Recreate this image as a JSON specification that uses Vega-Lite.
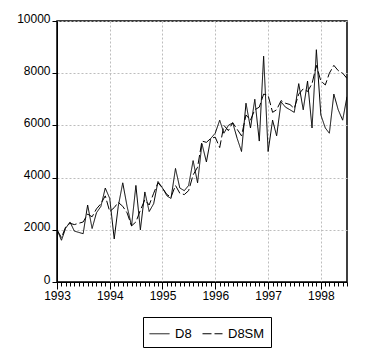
{
  "$schema": "https://vega.github.io/schema/vega-lite/v6.json",
  "autosize": "none",
  "width": 290,
  "height": 261,
  "padding": {"left": 57, "top": 21, "right": 19, "bottom": 72},
  "background": "white",
  "config": {
    "view": {"stroke": "black", "strokeWidth": 1.5},
    "font": "Liberation Sans",
    "axis": {"labelFont": "Liberation Sans", "labelColor": "black", "domainColor": "black", "tickColor": "black", "gridColor": "#bdbdbd", "gridDash": [2, 2], "labelFontSize": 12}
  },
  "data": {
    "values": [
      {"date": "1993-01", "D8": 2000, "D8SM": 2000},
      {"date": "1993-02", "D8": 1600, "D8SM": 1700},
      {"date": "1993-03", "D8": 2050, "D8SM": 2100},
      {"date": "1993-04", "D8": 2300, "D8SM": 2250},
      {"date": "1993-05", "D8": 1950, "D8SM": 2200},
      {"date": "1993-06", "D8": 1900, "D8SM": 2250},
      {"date": "1993-07", "D8": 1850, "D8SM": 2300},
      {"date": "1993-08", "D8": 2950, "D8SM": 2600},
      {"date": "1993-09", "D8": 2050, "D8SM": 2500},
      {"date": "1993-10", "D8": 2650, "D8SM": 2800},
      {"date": "1993-11", "D8": 2900, "D8SM": 3000},
      {"date": "1993-12", "D8": 3600, "D8SM": 3300},
      {"date": "1994-01", "D8": 3200, "D8SM": 2700},
      {"date": "1994-02", "D8": 1650, "D8SM": 2850},
      {"date": "1994-03", "D8": 2900, "D8SM": 3050},
      {"date": "1994-04", "D8": 3800, "D8SM": 2900},
      {"date": "1994-05", "D8": 2900, "D8SM": 2650},
      {"date": "1994-06", "D8": 2150, "D8SM": 2150},
      {"date": "1994-07", "D8": 3700, "D8SM": 2300},
      {"date": "1994-08", "D8": 2000, "D8SM": 2750},
      {"date": "1994-09", "D8": 3450, "D8SM": 3150},
      {"date": "1994-10", "D8": 2700, "D8SM": 2950},
      {"date": "1994-11", "D8": 3000, "D8SM": 3400},
      {"date": "1994-12", "D8": 3850, "D8SM": 3800},
      {"date": "1995-01", "D8": 3600, "D8SM": 3600},
      {"date": "1995-02", "D8": 3300, "D8SM": 3350},
      {"date": "1995-03", "D8": 3200, "D8SM": 3250},
      {"date": "1995-04", "D8": 4350, "D8SM": 3700},
      {"date": "1995-05", "D8": 3600, "D8SM": 3400},
      {"date": "1995-06", "D8": 3500, "D8SM": 3350},
      {"date": "1995-07", "D8": 3700, "D8SM": 3500},
      {"date": "1995-08", "D8": 4650, "D8SM": 4100},
      {"date": "1995-09", "D8": 3800, "D8SM": 4400},
      {"date": "1995-10", "D8": 5300, "D8SM": 5400},
      {"date": "1995-11", "D8": 4600, "D8SM": 5350},
      {"date": "1995-12", "D8": 5500, "D8SM": 5500},
      {"date": "1996-01", "D8": 5700, "D8SM": 5550},
      {"date": "1996-02", "D8": 6200, "D8SM": 5150},
      {"date": "1996-03", "D8": 5700, "D8SM": 6000},
      {"date": "1996-04", "D8": 6000, "D8SM": 5800},
      {"date": "1996-05", "D8": 6100, "D8SM": 6100},
      {"date": "1996-06", "D8": 5500, "D8SM": 5850},
      {"date": "1996-07", "D8": 5000, "D8SM": 5600},
      {"date": "1996-08", "D8": 6850, "D8SM": 6400},
      {"date": "1996-09", "D8": 5900, "D8SM": 6200},
      {"date": "1996-10", "D8": 7000, "D8SM": 6600},
      {"date": "1996-11", "D8": 5400, "D8SM": 6700},
      {"date": "1996-12", "D8": 8650, "D8SM": 7200},
      {"date": "1997-01", "D8": 5000, "D8SM": 7150},
      {"date": "1997-02", "D8": 6200, "D8SM": 6500},
      {"date": "1997-03", "D8": 5600, "D8SM": 6600},
      {"date": "1997-04", "D8": 6900, "D8SM": 6950},
      {"date": "1997-05", "D8": 6700, "D8SM": 6850},
      {"date": "1997-06", "D8": 6600, "D8SM": 6800},
      {"date": "1997-07", "D8": 6500, "D8SM": 6650},
      {"date": "1997-08", "D8": 7600, "D8SM": 7200},
      {"date": "1997-09", "D8": 6600, "D8SM": 7400},
      {"date": "1997-10", "D8": 7700, "D8SM": 7300},
      {"date": "1997-11", "D8": 5900, "D8SM": 7600},
      {"date": "1997-12", "D8": 8900, "D8SM": 8300},
      {"date": "1998-01", "D8": 6400, "D8SM": 7700},
      {"date": "1998-02", "D8": 5900, "D8SM": 7550},
      {"date": "1998-03", "D8": 5700, "D8SM": 8000},
      {"date": "1998-04", "D8": 7200, "D8SM": 8300},
      {"date": "1998-05", "D8": 6600, "D8SM": 8100},
      {"date": "1998-06", "D8": 6200, "D8SM": 8000},
      {"date": "1998-07", "D8": 7100, "D8SM": 7800}
    ]
  },
  "transform": [{"fold": ["D8", "D8SM"], "as": ["series", "value"]}],
  "mark": {"type": "line", "color": "black", "strokeWidth": 1, "clip": true},
  "encoding": {
    "x": {
      "field": "date", "type": "temporal",
      "scale": {"type": "utc", "domain": [{"year": 1993, "month": 1, "date": 1, "utc": true}, {"year": 1998, "month": 7, "date": 1, "utc": true}]},
      "axis": {
        "title": null,
        "tickCount": {"interval": "month", "step": 1},
        "labelExpr": "utcmonth(datum.value) == 0 ? utcFormat(datum.value, '%Y') : ''",
        "tickSize": {"condition": {"test": "utcmonth(datum.value) == 0", "value": 7}, "value": 4},
        "gridOpacity": {"condition": {"test": "utcmonth(datum.value) == 0", "value": 1}, "value": 0},
        "labelOverlap": false, "labelFlush": false, "labelBound": false,
        "labelPadding": 1
      }
    },
    "y": {
      "field": "value", "type": "quantitative",
      "scale": {"domain": [0, 10000], "nice": false, "zero": true},
      "axis": {"title": null, "values": [0, 2000, 4000, 6000, 8000, 10000], "format": "d", "tickSize": 5, "labelPadding": 2, "labelOffset": -3}
    },
    "strokeDash": {
      "field": "series", "type": "nominal",
      "scale": {"domain": ["D8", "D8SM"], "range": [[1, 0], [9, 3]]},
      "legend": {
        "title": null, "orient": "none", "legendX": 86, "legendY": 296, "direction": "horizontal",
        "strokeColor": "black", "padding": 6,
        "symbolType": "stroke", "symbolSize": 400, "symbolStrokeWidth": 1, "symbolStrokeColor": "black",
        "labelFontSize": 13, "labelFont": "Liberation Sans", "labelColor": "black", "labelOffset": 5, "columnPadding": 8, "symbolOffset": 0
      }
    }
  }
}
